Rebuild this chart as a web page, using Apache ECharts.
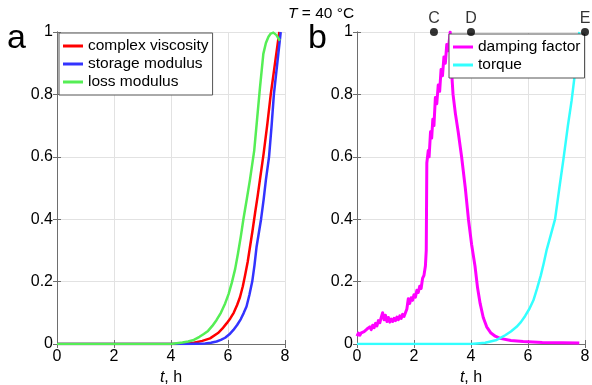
<!DOCTYPE html>
<html><head><meta charset="utf-8">
<script src="https://cdn.jsdelivr.net/npm/echarts@6/dist/echarts.min.js"></script>
<style>html,body{margin:0;padding:0;background:#fff}#c{width:592px;height:385px}</style>
</head><body><div id="c"></div>
<script>
// ---- data ----
const xTicks = [0, 2, 4, 6, 8];
const yTicks = [0, 0.2, 0.4, 0.6, 0.8, 1];
const complexViscosity = [[0,0],[4.2,0],[4.5,0.002],[4.8,0.004],[5.1,0.01],[5.37,0.018],[5.65,0.035],[5.8,0.049],[5.95,0.066],[6.08,0.082],[6.2,0.1],[6.32,0.125],[6.42,0.15],[6.52,0.185],[6.6,0.22],[6.69,0.263],[6.77,0.31],[6.86,0.363],[6.95,0.42],[7.04,0.474],[7.12,0.526],[7.25,0.61],[7.38,0.705],[7.5,0.8],[7.65,0.9],[7.8,1.0]];
const storageModulus = [[0,0],[4.5,0],[4.9,0.001],[5.2,0.002],[5.4,0.004],[5.6,0.008],[5.75,0.013],[5.9,0.02],[6.05,0.031],[6.19,0.045],[6.32,0.061],[6.45,0.08],[6.55,0.099],[6.65,0.12],[6.75,0.157],[6.85,0.2],[6.93,0.253],[7.0,0.31],[7.08,0.355],[7.16,0.4],[7.25,0.463],[7.33,0.526],[7.44,0.6],[7.53,0.7],[7.61,0.8],[7.73,0.9],[7.85,1.0]];
const lossModulus = [[0,0],[4.0,0],[4.4,0.005],[4.6,0.008],[4.8,0.013],[5.0,0.023],[5.15,0.032],[5.3,0.042],[5.45,0.058],[5.6,0.077],[5.75,0.1],[5.9,0.13],[6.02,0.16],[6.13,0.195],[6.25,0.24],[6.35,0.29],[6.45,0.345],[6.54,0.40],[6.66,0.465],[6.77,0.526],[6.92,0.62],[7.02,0.72],[7.12,0.82],[7.24,0.93],[7.33,0.965],[7.42,0.985],[7.5,0.995],[7.59,0.998],[7.7,0.99],[7.82,0.972]];
const dampingFactor = [[0,0.025],[0.05,0.035],[0.1,0.028],[0.15,0.036],[0.2,0.03],[0.25,0.04],[0.3,0.034],[0.35,0.048],[0.4,0.042],[0.45,0.055],[0.5,0.046],[0.55,0.06],[0.6,0.052],[0.65,0.066],[0.7,0.058],[0.75,0.075],[0.8,0.068],[0.85,0.085],[0.9,0.1],[0.95,0.078],[1.0,0.092],[1.05,0.072],[1.1,0.085],[1.15,0.07],[1.2,0.08],[1.25,0.072],[1.3,0.082],[1.35,0.075],[1.4,0.086],[1.45,0.078],[1.5,0.09],[1.55,0.082],[1.6,0.095],[1.65,0.088],[1.7,0.1],[1.75,0.112],[1.8,0.145],[1.85,0.13],[1.9,0.148],[1.95,0.14],[2.0,0.158],[2.05,0.15],[2.1,0.172],[2.15,0.165],[2.2,0.185],[2.25,0.178],[2.3,0.21],[2.35,0.22],[2.4,0.25],[2.43,0.3],[2.45,0.58],[2.5,0.62],[2.53,0.6],[2.58,0.68],[2.62,0.66],[2.66,0.72],[2.7,0.7],[2.75,0.79],[2.8,0.77],[2.85,0.83],[2.9,0.81],[2.95,0.88],[3.0,0.86],[3.05,0.92],[3.1,0.9],[3.15,0.96],[3.2,0.94],[3.27,1.0],[3.3,0.9],[3.37,0.8],[3.45,0.74],[3.55,0.68],[3.67,0.6],[3.8,0.5],[3.91,0.4],[4.02,0.32],[4.14,0.25],[4.23,0.18],[4.32,0.13],[4.43,0.085],[4.55,0.055],[4.7,0.035],[4.85,0.025],[5.02,0.018],[5.4,0.011],[5.83,0.008],[6.5,0.005],[7.2,0.004],[7.8,0.003]];
const torque = [[0,0],[4.0,0],[4.5,0.004],[4.9,0.013],[5.2,0.028],[5.4,0.04],[5.6,0.055],[5.75,0.07],[5.9,0.09],[6.05,0.113],[6.19,0.14],[6.32,0.178],[6.45,0.22],[6.55,0.258],[6.65,0.30],[6.8,0.35],[6.95,0.40],[7.1,0.5],[7.24,0.59],[7.4,0.7],[7.53,0.78],[7.65,0.87],[7.8,1.0]];
const stagePoints = [[2.7,1,'C'],[4.0,1,'D'],[8.0,1,'E']];

const FONT = 'Liberation Sans, Arial, sans-serif';
const AX = '#6e6e6e';
const chart = echarts.init(document.getElementById('c'), null, {renderer:'canvas'});

function xAx(gi, pos){
  const main = pos === 'bottom';
  return {type:'value', gridIndex:gi, position:pos, min:0, max:8, interval:2,
    axisLine:{show:true, lineStyle:{color:AX, width:1}},
    axisTick:{show:true, inside:true, length:4, lineStyle:{color:AX}},
    axisLabel:{show:main, color:'#000', fontSize:16, fontFamily:FONT, margin:5},
    splitLine:{show:main, lineStyle:{color:'#e2e2e2', width:1}},
    name: main ? '{i|t}, h' : '', nameLocation:'middle', nameGap:21,
    nameTextStyle:{color:'#000', fontSize:16, fontFamily:FONT, rich:{i:{fontStyle:'italic', fontSize:16, fontFamily:FONT}}}
  };
}
function yAx(gi, pos){
  const main = pos === 'left';
  return {type:'value', gridIndex:gi, position:pos, min:0, max:1, interval:0.2,
    axisLine:{show:true, lineStyle:{color:AX, width:1}},
    axisTick:{show:true, inside:true, length:4, lineStyle:{color:AX}},
    axisLabel:{show:main, color:'#000', fontSize:16, fontFamily:FONT, margin:4,
      formatter:v => String(Math.round(v*10)/10)},
    splitLine:{show:main, lineStyle:{color:'#e2e2e2', width:1}}
  };
}
function line(name, data, color, xi, yi, w){
  return {name, type:'line', data, xAxisIndex:xi, yAxisIndex:yi, showSymbol:false, symbol:'none',
    lineStyle:{color, width:w||2.5, join:'round'}, itemStyle:{color}, animation:false, z:3};
}
const legendBase = {orient:'vertical', backgroundColor:'#fff', borderColor:'#555', borderWidth:1,
  borderRadius:0, itemWidth:20, itemHeight:3, icon:'rect', itemGap:2,
  textStyle:{fontSize:15.5, fontFamily:FONT, color:'#000', lineHeight:15}};

chart.setOption({
  animation:false,
  grid:[{left:57, top:32, width:228, height:312, outerBoundsMode:'none', containLabel:false},
        {left:357, top:32, width:228, height:312, outerBoundsMode:'none', containLabel:false}],
  xAxis:[xAx(0,'bottom'), xAx(0,'top'), xAx(1,'bottom'), xAx(1,'top')],
  yAxis:[yAx(0,'left'), yAx(0,'right'), yAx(1,'left'), yAx(1,'right')],
  legend:[
    Object.assign({}, legendBase, {data:['complex viscosity','storage modulus','loss modulus'], left:59, top:33, padding:[5,4,5,4]}),
    Object.assign({}, legendBase, {data:['damping factor','torque'], left:449, top:34, padding:[5,4,5,4]})
  ],
  series:[
    line('complex viscosity', complexViscosity, '#ff0000', 0, 0),
    line('storage modulus', storageModulus, '#3333ff', 0, 0),
    line('loss modulus', lossModulus, '#55ee55', 0, 0),
    line('damping factor', dampingFactor, '#ff00ff', 2, 2, 3),
    line('torque', torque, '#33ffff', 2, 2),
    {type:'scatter', xAxisIndex:2, yAxisIndex:2, data:stagePoints, symbolSize:8, clip:false, z:5,
      itemStyle:{color:'#000'},
      label:{show:true, position:'top', distance:1, formatter:p=>p.data[2], color:'#000', fontSize:16, fontFamily:FONT}}
  ],
  graphic:[
    {type:'text', left:7, top:22, style:{text:'a', fontSize:34, fontFamily:FONT, fill:'#000'}},
    {type:'text', left:308, top:22, style:{text:'b', fontSize:34, fontFamily:FONT, fill:'#000'}},
    {type:'text', left:288, top:6, style:{text:'{i|T} = 40 °C', fontSize:15.5, fontFamily:FONT, fill:'#000',
      rich:{i:{fontStyle:'italic', fontSize:15.5, fontFamily:FONT}}}}
  ]
});
</script></body></html>
